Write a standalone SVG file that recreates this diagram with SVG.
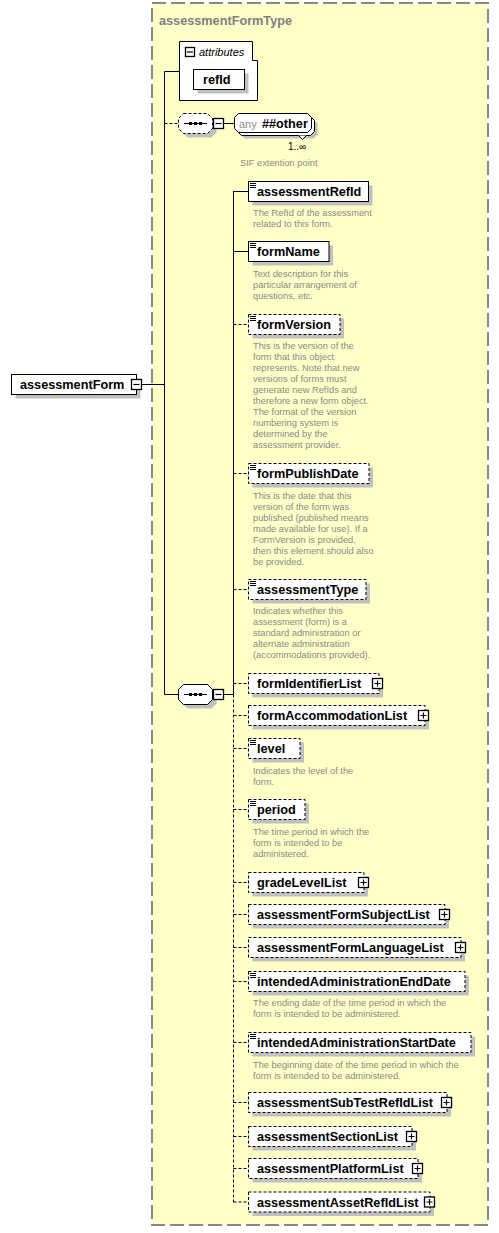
<svg xmlns="http://www.w3.org/2000/svg" width="499" height="1233" viewBox="0 0 499 1233">
<style>
text{font-family:"Liberation Sans",Arial,sans-serif}
.el{font-size:12.7px;font-weight:bold;fill:#000}
.ds{font-size:9.3px;fill:#8a8a8a}
.box{fill:#fff;stroke:#000;stroke-width:1}
.opt{fill:#fff;stroke:#000;stroke-width:1;stroke-dasharray:3,2}
.sh{fill:#c0c0c0;stroke:none}
.ic{stroke:#000;stroke-width:1;fill:none}
.btn{fill:#fff;stroke:#000;stroke-width:1.3}
.bl{stroke:#000;stroke-width:1.2;fill:none}
.ln{stroke:#000;stroke-width:1;fill:none}
.dl{stroke:#000;stroke-width:1;fill:none;stroke-dasharray:3,2}
</style>
<rect x="0" y="0" width="499" height="1233" fill="#fff"/>
<g id="type-assessmentFormType">
<rect x="152" y="3" width="336" height="1222" fill="#ffffc8" stroke="#888" stroke-width="2" stroke-dasharray="14,5"/>
<text x="159" y="25" font-size="12.7" font-weight="bold" fill="#808080">assessmentFormType</text>
</g>
<g id="connectors">
<path class="ln" d="M141,384.5H164.5M164.5,71.5V694.5H178.5M164.5,71.5H179.5"/>
<path class="dl" d="M164.5,123.5H178.5"/>
<path class="ln" d="M223.5,123.5H234.5M223.5,694.5H233.5M233.5,191V694.5"/>
<path class="dl" d="M233.5,694.5V1202"/>
<path class="ln" d="M233.5,191.5H248.5M233.5,251.5H248.5"/>
<path class="dl" d="M233.5,324.5H248.5M233.5,473.5H248.5M233.5,589.5H248.5M233.5,683.5H248.5M233.5,715.5H248.5M233.5,748.5H248.5M233.5,809.5H248.5M233.5,882.5H248.5M233.5,914.5H248.5M233.5,947.5H248.5M233.5,981.5H248.5M233.5,1042.5H248.5M233.5,1102.5H248.5M233.5,1136.5H248.5M233.5,1168.5H248.5M233.5,1202H248.5"/>
</g>
<g id="n-assessmentForm">
<rect class="sh" x="15.5" y="378.5" width="125" height="20"/>
<rect class="box" x="11.5" y="374.5" width="125" height="20"/>
<text class="el" x="20" y="389">assessmentForm</text>
<rect class="btn" x="131.5" y="379.5" width="10" height="10"/>
<path class="bl" d="M133.5,384.5h6"/>
</g>
<g id="n-attributes">
<polygon points="179.5,41.5 252.5,41.5 252.5,60.5 257.5,60.5 257.5,100.5 179.5,100.5" fill="#fff" stroke="#000" stroke-width="1"/>
<rect class="btn" x="185.5" y="47.5" width="9" height="9"/>
<path class="bl" d="M187,52h6"/>
<text x="199" y="55.5" font-size="11" font-style="italic" fill="#000">attributes</text>
</g>
<g id="n-refId">
<rect class="sh" x="197.5" y="73.5" width="51" height="20"/>
<rect class="box" x="193.5" y="69.5" width="51" height="20"/>
<text class="el" x="203" y="84">refId</text>
</g>
<g id="n-seq1">
<path class="sh" d="M187.5,117.5H211.5L216.5,122.5V132.5L211.5,137.5H187.5L182.5,132.5V122.5Z"/>
<path d="M183.5,113.5H207.5L212.5,118.5V128.5L207.5,133.5H183.5L178.5,128.5V118.5Z" fill="#fff" stroke="#000" stroke-width="1" stroke-dasharray="3,2"/>
<path class="ln" d="M184,123.5H207"/>
<rect x="189" y="122" width="3" height="3" fill="#000"/><rect x="194" y="122" width="3" height="3" fill="#000"/><rect x="199" y="122" width="3" height="3" fill="#000"/>
<rect class="btn" x="213.5" y="118.5" width="10" height="10"/>
<path class="bl" d="M215.5,123.5h6"/>
</g>
<g id="n-any">
<path class="sh" d="M244.5,119.5H313.5L317.5,123.5V134.5L313.5,138.5H244.5L240.5,134.5V123.5Z"/>
<path d="M241.5,116.5H310.5L314.5,120.5V131.5L310.5,135.5H241.5L237.5,131.5V120.5Z" fill="#fff" stroke="#000" stroke-width="1"/>
<path d="M298.5,135.5L302.5,139.5L306.5,135.5" fill="#fff" stroke="#000" stroke-width="1"/>
<path d="M238.5,113.5H307.5L311.5,117.5V128.5L307.5,132.5H238.5L234.5,128.5V117.5Z" fill="#fff" stroke="#000" stroke-width="1"/>
<text x="239" y="127.5" font-size="11" fill="#8a8a8a">any</text>
<text class="el" x="262" y="128">##other</text>
<text x="288" y="150" font-size="10" fill="#000">1..∞</text>
<text class="ds" x="240" y="166">SIF extention point</text>
</g>
<g id="n-seq2">
<path class="sh" d="M187.5,688.5H211.5L216.5,693.5V703.5L211.5,708.5H187.5L182.5,703.5V693.5Z"/>
<path d="M183.5,684.5H207.5L212.5,689.5V699.5L207.5,704.5H183.5L178.5,699.5V689.5Z" fill="#fff" stroke="#000" stroke-width="1"/>
<path class="ln" d="M184,694.5H207"/>
<rect x="189" y="693" width="3" height="3" fill="#000"/><rect x="194" y="693" width="3" height="3" fill="#000"/><rect x="199" y="693" width="3" height="3" fill="#000"/>
<rect class="btn" x="213.5" y="689.5" width="10" height="10"/>
<path class="bl" d="M215.5,694.5h6"/>
</g>
<g id="n-assessmentRefId">
<rect class="sh" x="252.5" y="185.5" width="120" height="20"/>
<rect class="box" x="248.5" y="181.5" width="120" height="20"/>
<path class="ic" d="M250,183.5h6M250,185.5h6M250,187.5h6"/>
<text class="el" x="257" y="196">assessmentRefId</text>
<text class="ds" x="253" y="216">The RefId of the assessment</text>
<text class="ds" x="253" y="227">related to this form.</text>
</g>
<g id="n-formName">
<rect class="sh" x="252.5" y="245.5" width="80.5" height="20"/>
<rect class="box" x="248.5" y="241.5" width="80.5" height="20"/>
<path class="ic" d="M250,243.5h6M250,245.5h6M250,247.5h6"/>
<text class="el" x="257" y="256">formName</text>
<text class="ds" x="253" y="276.5">Text description for this</text>
<text class="ds" x="253" y="287.5">particular arrangement of</text>
<text class="ds" x="253" y="298.5">questions, etc.</text>
</g>
<g id="n-formVersion">
<rect class="sh" x="252.5" y="318.5" width="91.5" height="20"/>
<rect class="opt" x="248.5" y="314.5" width="91.5" height="20"/>
<path class="ic" d="M250,316.5h6M250,318.5h6M250,320.5h6"/>
<text class="el" x="257" y="329">formVersion</text>
<text class="ds" x="253" y="349">This is the version of the</text>
<text class="ds" x="253" y="360">form that this object</text>
<text class="ds" x="253" y="371">represents. Note that new</text>
<text class="ds" x="253" y="382">versions of forms must</text>
<text class="ds" x="253" y="393">generate new RefIds and</text>
<text class="ds" x="253" y="404">therefore a new form object.</text>
<text class="ds" x="253" y="415">The format of the version</text>
<text class="ds" x="253" y="426">numbering system is</text>
<text class="ds" x="253" y="437">determined by the</text>
<text class="ds" x="253" y="448">assessment provider.</text>
</g>
<g id="n-formPublishDate">
<rect class="sh" x="252.5" y="467.5" width="120.5" height="20"/>
<rect class="opt" x="248.5" y="463.5" width="120.5" height="20"/>
<path class="ic" d="M250,465.5h6M250,467.5h6M250,469.5h6"/>
<text class="el" x="257" y="478">formPublishDate</text>
<text class="ds" x="253" y="498.5">This is the date that this</text>
<text class="ds" x="253" y="509.5">version of the form was</text>
<text class="ds" x="253" y="520.5">published (published means</text>
<text class="ds" x="253" y="531.5">made available for use). If a</text>
<text class="ds" x="253" y="542.5">FormVersion is provided,</text>
<text class="ds" x="253" y="553.5">then this element should also</text>
<text class="ds" x="253" y="564.5">be provided.</text>
</g>
<g id="n-assessmentType">
<rect class="sh" x="252.5" y="583.5" width="117.5" height="20"/>
<rect class="opt" x="248.5" y="579.5" width="117.5" height="20"/>
<path class="ic" d="M250,581.5h6M250,583.5h6M250,585.5h6"/>
<text class="el" x="257" y="594">assessmentType</text>
<text class="ds" x="253" y="614">Indicates whether this</text>
<text class="ds" x="253" y="625">assessment (form) is a</text>
<text class="ds" x="253" y="636">standard administration or</text>
<text class="ds" x="253" y="647">alternate administration</text>
<text class="ds" x="253" y="658">(accommodations provided).</text>
</g>
<g id="n-formIdentifierList">
<rect class="sh" x="252.5" y="677.5" width="130.5" height="20"/>
<rect class="opt" x="248.5" y="673.5" width="130.5" height="20"/>
<text class="el" x="257" y="688">formIdentifierList</text>
<rect class="btn" x="372.5" y="678.5" width="10" height="10"/>
<path class="bl" d="M374.5,683.5h6M377.5,680.5v6"/>
</g>
<g id="n-formAccommodationList">
<rect class="sh" x="252.5" y="709.5" width="176.5" height="20"/>
<rect class="opt" x="248.5" y="705.5" width="176.5" height="20"/>
<text class="el" x="257" y="720">formAccommodationList</text>
<rect class="btn" x="418.5" y="710.5" width="10" height="10"/>
<path class="bl" d="M420.5,715.5h6M423.5,712.5v6"/>
</g>
<g id="n-level">
<rect class="sh" x="252.5" y="742.5" width="51.5" height="20"/>
<rect class="opt" x="248.5" y="738.5" width="51.5" height="20"/>
<path class="ic" d="M250,740.5h6M250,742.5h6M250,744.5h6"/>
<text class="el" x="257" y="753">level</text>
<text class="ds" x="253" y="774">Indicates the level of the</text>
<text class="ds" x="253" y="785">form.</text>
</g>
<g id="n-period">
<rect class="sh" x="252.5" y="803.5" width="56.5" height="20"/>
<rect class="opt" x="248.5" y="799.5" width="56.5" height="20"/>
<path class="ic" d="M250,801.5h6M250,803.5h6M250,805.5h6"/>
<text class="el" x="257" y="814">period</text>
<text class="ds" x="253" y="835">The time period in which the</text>
<text class="ds" x="253" y="846">form is intended to be</text>
<text class="ds" x="253" y="857">administered.</text>
</g>
<g id="n-gradeLevelList">
<rect class="sh" x="252.5" y="876.5" width="115.5" height="20"/>
<rect class="opt" x="248.5" y="872.5" width="115.5" height="20"/>
<text class="el" x="257" y="887">gradeLevelList</text>
<rect class="btn" x="358.5" y="877.5" width="10" height="10"/>
<path class="bl" d="M360.5,882.5h6M363.5,879.5v6"/>
</g>
<g id="n-assessmentFormSubjectList">
<rect class="sh" x="252.5" y="908.5" width="196.5" height="20"/>
<rect class="opt" x="248.5" y="904.5" width="196.5" height="20"/>
<text class="el" x="257" y="919">assessmentFormSubjectList</text>
<rect class="btn" x="439.5" y="909.5" width="10" height="10"/>
<path class="bl" d="M441.5,914.5h6M444.5,911.5v6"/>
</g>
<g id="n-assessmentFormLanguageList">
<rect class="sh" x="252.5" y="941.5" width="212.5" height="20"/>
<rect class="opt" x="248.5" y="937.5" width="212.5" height="20"/>
<text class="el" x="257" y="952">assessmentFormLanguageList</text>
<rect class="btn" x="455.5" y="942.5" width="10" height="10"/>
<path class="bl" d="M457.5,947.5h6M460.5,944.5v6"/>
</g>
<g id="n-intendedAdministrationEndDate">
<rect class="sh" x="252.5" y="975.5" width="216.5" height="20"/>
<rect class="opt" x="248.5" y="971.5" width="216.5" height="20"/>
<path class="ic" d="M250,973.5h6M250,975.5h6M250,977.5h6"/>
<text class="el" x="257" y="986">intendedAdministrationEndDate</text>
<text class="ds" x="253" y="1006">The ending date of the time period in which the</text>
<text class="ds" x="253" y="1017">form is intended to be administered.</text>
</g>
<g id="n-intendedAdministrationStartDate">
<rect class="sh" x="252.5" y="1036.5" width="222.5" height="20"/>
<rect class="opt" x="248.5" y="1032.5" width="222.5" height="20"/>
<path class="ic" d="M250,1034.5h6M250,1036.5h6M250,1038.5h6"/>
<text class="el" x="257" y="1047">intendedAdministrationStartDate</text>
<text class="ds" x="253" y="1067.5">The beginning date of the time period in which the</text>
<text class="ds" x="253" y="1078.5">form is intended to be administered.</text>
</g>
<g id="n-assessmentSubTestRefIdList">
<rect class="sh" x="252.5" y="1096.5" width="198.5" height="20"/>
<rect class="opt" x="248.5" y="1092.5" width="198.5" height="20"/>
<text class="el" x="257" y="1107">assessmentSubTestRefIdList</text>
<rect class="btn" x="441.5" y="1097.5" width="10" height="10"/>
<path class="bl" d="M443.5,1102.5h6M446.5,1099.5v6"/>
</g>
<g id="n-assessmentSectionList">
<rect class="sh" x="252.5" y="1130.5" width="163.5" height="20"/>
<rect class="opt" x="248.5" y="1126.5" width="163.5" height="20"/>
<text class="el" x="257" y="1141">assessmentSectionList</text>
<rect class="btn" x="406.5" y="1131.5" width="10" height="10"/>
<path class="bl" d="M408.5,1136.5h6M411.5,1133.5v6"/>
</g>
<g id="n-assessmentPlatformList">
<rect class="sh" x="252.5" y="1162.5" width="169.5" height="20"/>
<rect class="opt" x="248.5" y="1158.5" width="169.5" height="20"/>
<text class="el" x="257" y="1173">assessmentPlatformList</text>
<rect class="btn" x="412.5" y="1163.5" width="10" height="10"/>
<path class="bl" d="M414.5,1168.5h6M417.5,1165.5v6"/>
</g>
<g id="n-assessmentAssetRefIdList">
<rect class="sh" x="252.5" y="1196" width="181.5" height="20"/>
<rect class="opt" x="248.5" y="1192" width="181.5" height="20"/>
<text class="el" x="257" y="1206.5">assessmentAssetRefIdList</text>
<rect class="btn" x="424.5" y="1197" width="10" height="10"/>
<path class="bl" d="M426.5,1202h6M429.5,1199v6"/>
</g>
</svg>
